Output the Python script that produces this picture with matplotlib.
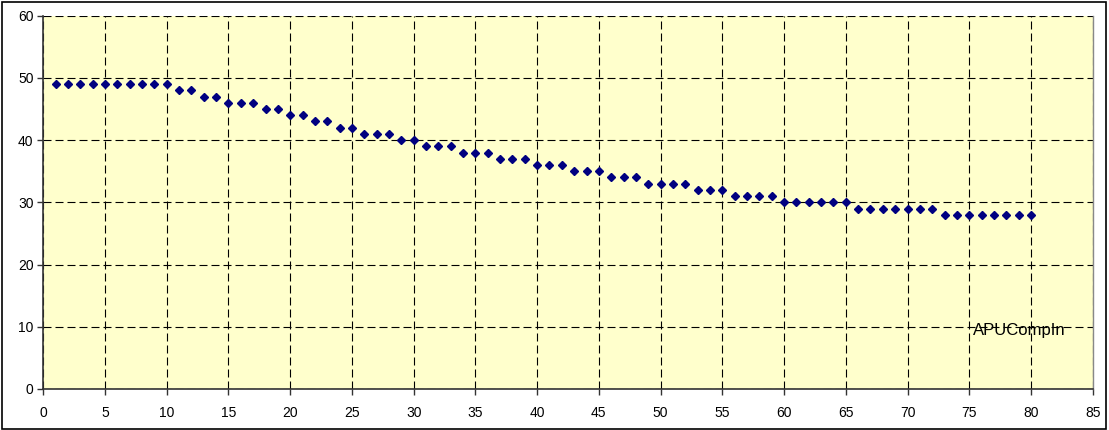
import matplotlib
matplotlib.use("Agg")
import matplotlib.pyplot as plt
from matplotlib.patches import Rectangle

plt.rcParams['font.family'] = ['Liberation Sans', 'DejaVu Sans']

x_values = list(range(1, 81))
y_values = ([49] * 10 + [48] * 2 + [47] * 2 + [46] * 3 + [45] * 2 + [44] * 2 +
            [43] * 2 + [42] * 2 + [41] * 3 + [40] * 2 + [39] * 3 + [38] * 3 +
            [37] * 3 + [36] * 3 + [35] * 3 + [34] * 3 + [33] * 4 + [32] * 3 +
            [31] * 4 + [30] * 6 + [29] * 7 + [28] * 8)
series_name = "APUCompIn"
x_ticks = list(range(0, 86, 5))
y_ticks = list(range(0, 61, 10))

fig = plt.figure(figsize=(11.09, 4.30), dpi=100)
fig.patch.set_facecolor('white')
fig.patches.append(Rectangle((0.002, 0.003), 0.995, 0.993, transform=fig.transFigure,
                             fill=False, edgecolor='black', linewidth=1.2))

ax = fig.add_axes([0.03905, 0.09535, 0.94625, 0.86814])
ax.set_facecolor('#FFFFCC')
ax.plot(x_values, y_values, linestyle='none', marker='D', markersize=4.2,
        color='#000080', zorder=3)

ax.set_xlim(0, 85)
ax.set_ylim(0, 60)
ax.set_xticks(x_ticks)
ax.set_yticks(y_ticks)
ax.grid(True, color='black', linestyle=(0, (7.2, 3.6)), linewidth=0.8)
ax.set_axisbelow(True)
ax.tick_params(axis='both', direction='out', length=4, width=1, color='#333333',
               labelsize=10, colors='black')
ax.tick_params(axis='x', pad=8)
ax.tick_params(axis='y', pad=3)
for side in ['left', 'bottom']:
    ax.spines[side].set_color('#333333')
    ax.spines[side].set_linewidth(1.2)
ax.spines['top'].set_visible(False)
ax.spines['right'].set_color('#888888')
ax.spines['right'].set_linewidth(1.0)

ax.text(75.3, 9.4, series_name, fontsize=12, va='center', ha='left', color='black')

fig.savefig('out.png', dpi=100)
